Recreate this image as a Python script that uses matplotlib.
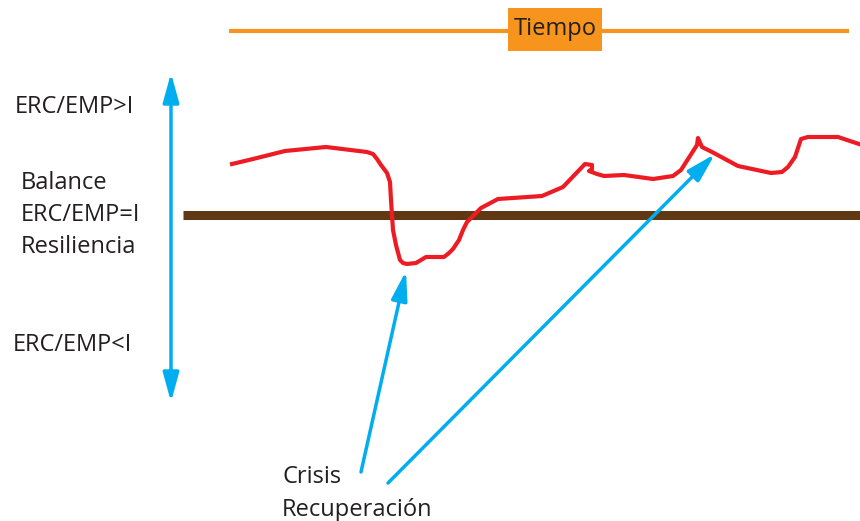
import matplotlib.pyplot as plt
from matplotlib.patches import Rectangle

curva_x = [232, 253, 285, 326, 367, 373, 377, 381, 387, 390, 391, 393, 396, 400, 403, 407, 416,
           421, 426, 444, 449, 453, 459, 463, 467, 481, 498, 542, 563, 585, 592, 592, 589, 597, 604, 624,
           653, 673, 681, 697, 698, 702, 712, 738, 771, 782, 788, 795, 799, 801, 808, 838, 859]
curva_y = [164, 159, 151, 147, 152, 154, 159, 165, 173, 182, 200, 230, 245, 260, 263, 264, 263,
           260, 257, 257, 253, 249, 240, 230, 222, 208, 199, 196, 187, 164, 165, 169, 171, 174, 176, 175,
           179, 176, 170, 145, 138, 147, 152, 166, 173, 172, 167, 157, 145, 139, 137, 137, 144]

etiquetas_izq = ['ERC/EMP>I', 'Balance', 'ERC/EMP=I', 'Resiliencia', 'ERC/EMP<I']
etiquetas_abajo = ['Crisis', 'Recuperación']
titulo_tiempo = 'Tiempo'

rojo = '#ED1C24'
azul = '#00AEEF'
naranja = '#F7941D'
marron = '#603813'
texto = '#231F20'

plt.rcParams['font.family'] = ['Open Sans', 'DejaVu Sans']

fig = plt.figure(figsize=(8.6, 5.21), dpi=100)
ax = fig.add_axes([0, 0, 1, 1])
ax.set_xlim(0, 860)
ax.set_ylim(521, 0)
ax.axis('off')

# Linea del tiempo con su etiqueta
ax.plot([229, 849], [31, 31], color=naranja, lw=3, solid_capstyle='butt')
ax.add_patch(Rectangle((508, 8), 94, 43, fc=naranja, ec='none', zorder=3))
ax.text(555, 29, titulo_tiempo, ha='center', va='center', fontsize=17, color=texto, zorder=4)

# Linea de balance
ax.plot([183, 860], [215, 215], color=marron, lw=6.5, solid_capstyle='butt')

# Curva roja
ax.plot(curva_x, curva_y, color=rojo, lw=3, solid_joinstyle='round', zorder=3)

# Flechas azules (cabeza larga y angosta)
estilo = dict(color=azul, lw=2.5, mutation_scale=22, shrinkA=0, shrinkB=0)
ax.annotate('', xy=(171, 73), xytext=(171, 402),
            arrowprops=dict(arrowstyle='<|-|>,head_length=0.8,head_width=0.22', **estilo))
ax.annotate('', xy=(406, 271), xytext=(361, 472),
            arrowprops=dict(arrowstyle='-|>,head_length=0.8,head_width=0.22', **estilo))
ax.annotate('', xy=(715, 154), xytext=(388, 483),
            arrowprops=dict(arrowstyle='-|>,head_length=0.8,head_width=0.22', **estilo))

# Textos a la izquierda
pos_izq = [(15, 107), (21, 183), (21, 215), (21, 247), (13, 345)]
for lab, (x, y) in zip(etiquetas_izq, pos_izq):
    ax.text(x, y, lab, ha='left', va='center', fontsize=17, color=texto)

# Textos de abajo
ax.text(282, 477, etiquetas_abajo[0], ha='left', va='center', fontsize=17, color=texto)
ax.text(282, 510, etiquetas_abajo[1], ha='left', va='center', fontsize=17, color=texto)

fig.savefig('out.png', dpi=100)
